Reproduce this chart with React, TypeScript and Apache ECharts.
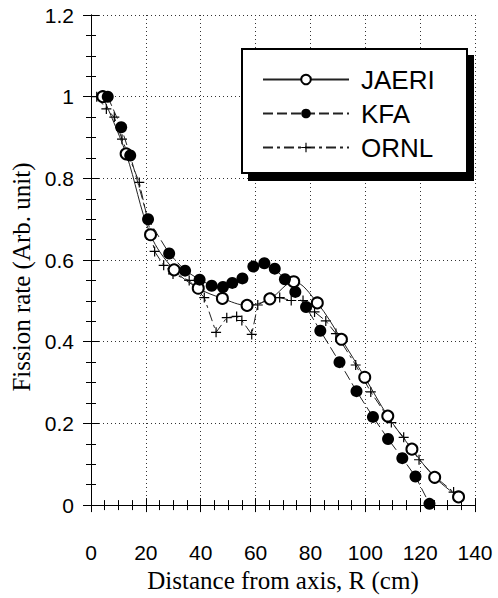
import React, { useEffect, useRef } from "react";
import * as echarts from "echarts";

const xTicks = [0, 20, 40, 60, 80, 100, 120, 140];
const yTicks = [0, 0.2, 0.4, 0.6, 0.8, 1, 1.2];

const jaeriR = [4.3, 12.8, 21.7, 30.3, 39.1, 47.9, 56.9, 65.2, 73.9, 82.5, 91.3, 99.8, 108.2, 117.0, 125.3, 134.0];
const jaeriF = [1.0, 0.86, 0.662, 0.576, 0.531, 0.506, 0.489, 0.505, 0.547, 0.495, 0.406, 0.313, 0.218, 0.137, 0.068, 0.02];

const kfaR = [6.1, 11.0, 14.3, 20.8, 28.5, 34.3, 39.6, 44.0, 48.1, 51.5, 55.2, 59.2, 63.2, 67.0, 70.7, 74.5, 78.4, 83.6, 90.6, 96.8, 102.8, 108.3, 113.5, 118.3, 123.4];
const kfaF = [1.0, 0.925, 0.856, 0.70, 0.616, 0.574, 0.552, 0.537, 0.534, 0.544, 0.555, 0.584, 0.592, 0.579, 0.553, 0.522, 0.485, 0.427, 0.35, 0.279, 0.216, 0.162, 0.115, 0.07, 0.003];

const ornlR = [2.1, 5.6, 8.5, 11.3, 17.6, 23.2, 26.5, 29.9, 35.8, 41.3, 45.6, 49.5, 53.1, 55.0, 58.6, 60.8, 65.7, 68.8, 73.0, 77.3, 81.5, 85.6, 89.3, 96.5, 102.0, 109.5, 114.0, 119.6, 125.3, 132.2];
const ornlF = [1.0, 0.97, 0.95, 0.896, 0.79, 0.621, 0.587, 0.566, 0.55, 0.508, 0.423, 0.459, 0.462, 0.452, 0.418, 0.49, 0.508, 0.508, 0.501, 0.501, 0.473, 0.451, 0.42, 0.343, 0.277, 0.202, 0.166, 0.111, 0.07, 0.032];

const seriesNames = ["JAERI", "KFA", "ORNL"];

const pair = (xs: number[], ys: number[]) => xs.map((x, i) => [x, ys[i]]);

const plusPath =
  "path://M4.4,0h1.2v4.4h4.4v1.2h-4.4v4.4h-1.2v-4.4h-4.4v-1.2h4.4z";

export default function App() {
  const ref = useRef<HTMLDivElement>(null);
  useEffect(() => {
    if (!ref.current) return;
    const chart = echarts.init(ref.current, null, { renderer: "svg" });
    const sans = "Liberation Sans, Arial, Helvetica, sans-serif";
    const serif = "Liberation Serif, Times New Roman, serif";
    const baseX = {
      type: "value",
      min: xTicks[0],
      max: xTicks[xTicks.length - 1],
      interval: 20,
      axisLine: { show: true, lineStyle: { color: "#000", width: 1 } },
      axisTick: { show: true, inside: true, length: 7, lineStyle: { color: "#000" } },
      minorTick: { show: true, splitNumber: 4, length: 5, lineStyle: { color: "#000" } },
    };
    const baseY = {
      type: "value",
      min: yTicks[0],
      max: yTicks[yTicks.length - 1],
      interval: 0.2,
      axisLine: { show: true, lineStyle: { color: "#000", width: 1 } },
      axisTick: { show: true, inside: true, length: 8, lineStyle: { color: "#000" } },
      minorTick: { show: true, splitNumber: 4, length: 5, lineStyle: { color: "#000" } },
    };
    chart.setOption({
      animation: false,
      backgroundColor: "#fff",
      grid: { left: 91, top: 15, right: 23, bottom: 89, containLabel: false },
      xAxis: [
        {
          ...baseX,
          position: "bottom",
          name: "Distance from axis, R (cm)",
          nameLocation: "middle",
          nameGap: 59,
          nameTextStyle: { fontFamily: serif, fontSize: 25, color: "#000" },
          axisLabel: { show: true, margin: 37, fontFamily: sans, fontSize: 21, color: "#000" },
          splitLine: { show: true, lineStyle: { color: "#333", type: [1, 3], width: 1 } },
        },
        {
          ...baseX,
          position: "top",
          axisLabel: { show: false },
          splitLine: { show: false },
        },
      ],
      yAxis: [
        {
          ...baseY,
          position: "left",
          name: "Fission rate (Arb. unit)",
          nameLocation: "middle",
          nameGap: 56,
          nameTextStyle: { fontFamily: serif, fontSize: 25, color: "#000", padding: [0, 34, 0, 0] },
          axisLabel: { show: true, margin: 17, fontFamily: sans, fontSize: 21, color: "#000" },
          splitLine: { show: true, lineStyle: { color: "#333", type: [1, 3], width: 1 } },
        },
        {
          ...baseY,
          position: "right",
          axisLabel: { show: false },
          splitLine: { show: false },
        },
      ],
      graphic: [
        {
          type: "rect",
          z: 5,
          shape: { x: 248, y: 55, width: 226, height: 126 },
          style: { fill: "#000" },
        },
        {
          type: "rect",
          z: 6,
          shape: { x: 242, y: 49, width: 225, height: 124 },
          style: { fill: "#fff", stroke: "#000", lineWidth: 2 },
        },
      ],
      legend: {
        show: true,
        z: 10,
        orient: "vertical",
        left: 262,
        top: 66,
        padding: 0,
        itemWidth: 86,
        itemHeight: 12,
        itemGap: 7,
        data: seriesNames,
        textStyle: {
          fontFamily: sans,
          fontSize: 26,
          lineHeight: 27,
          color: "#000",
          padding: [0, 0, 0, 7],
        },
      },
      series: [
        {
          name: seriesNames[0],
          type: "line",
          smooth: 0.35,
          data: pair(jaeriR, jaeriF),
          symbol: "emptyCircle",
          symbolSize: 11,
          itemStyle: { color: "#000", borderWidth: 1 },
          lineStyle: { color: "#222", width: 1, type: "solid" },
          z: 3,
        },
        {
          name: seriesNames[1],
          type: "line",
          data: pair(kfaR, kfaF),
          symbol: "circle",
          symbolSize: 12,
          itemStyle: { color: "#000" },
          lineStyle: { color: "#222", width: 1, type: [10, 4] },
          z: 4,
        },
        {
          name: seriesNames[2],
          type: "line",
          data: pair(ornlR, ornlF),
          symbol: plusPath,
          symbolSize: 10,
          itemStyle: { color: "#000" },
          lineStyle: { color: "#222", width: 1, type: [10, 4, 3, 4] },
          z: 2,
        },
      ],
    });
    return () => chart.dispose();
  }, []);
  return (
    <div
      ref={ref}
      style={{ position: "fixed", left: 0, top: 0, width: 498, height: 598, background: "#fff" }}
    />
  );
}
